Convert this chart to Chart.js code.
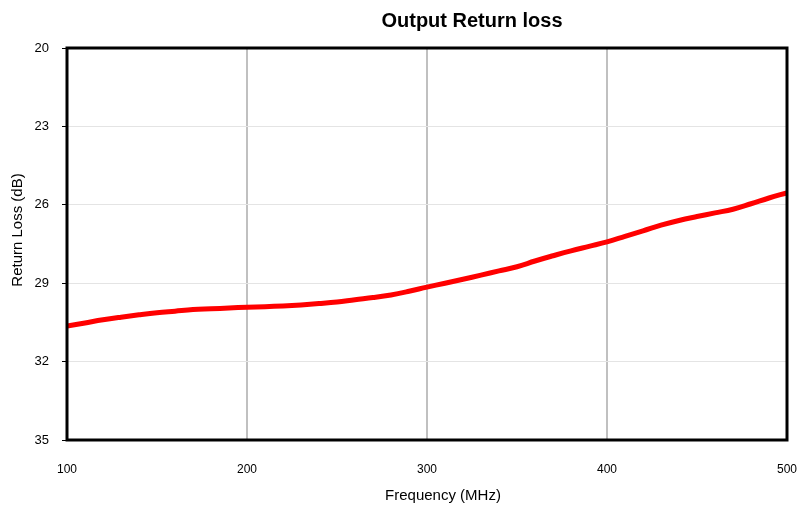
<!DOCTYPE html>
<html>
<head>
<meta charset="utf-8">
<script src="https://cdn.jsdelivr.net/npm/chart.js@4/dist/chart.umd.min.js"></script>
<style>
  html, body { margin: 0; padding: 0; background: #fff; }
  #wrap { width: 802px; height: 507px; }
</style>
</head>
<body>
<div id="wrap"><canvas id="c" width="802" height="507"></canvas></div>
<script>
// frequency in MHz, return loss in dB
const freq = [100,110,120,130,140,150,160,170,180,190,200,210,220,230,240,250,260,270,280,290,
              300,310,320,330,340,350,360,370,380,390,400,410,420,430,440,450,460,470,480,490,500];
const returnLoss = [30.64,30.52,30.40,30.30,30.21,30.13,30.07,30.01,29.98,29.95,29.92,29.90,29.87,29.83,29.78,29.72,29.63,29.55,29.45,29.31,
                    29.15,29.00,28.85,28.69,28.53,28.37,28.15,27.95,27.76,27.59,27.42,27.21,27.00,26.78,26.60,26.45,26.31,26.17,25.96,25.74,25.54];
const xTicks = [100, 200, 300, 400, 500];
const yTicks = [20, 23, 26, 29, 32, 35];

const font = 'Liberation Sans, Arial, sans-serif';

let boxPlugin = {
	id: 'box',
	afterDraw(chart){
		const a = chart.chartArea, ctx = chart.ctx;
		ctx.save();
		ctx.strokeStyle = '#000';
		ctx.lineWidth = 3;
		ctx.strokeRect(a.left, a.top, a.right - a.left, a.bottom - a.top);
		ctx.fillStyle = '#000';
		ctx.textAlign = 'center';
		ctx.textBaseline = 'middle';
		ctx.font = 'bold 20px ' + font;
		ctx.fillText('Output Return loss', 472, 21);
		ctx.font = '15px ' + font;
		ctx.fillText('Frequency (MHz)', 443, 496);
		ctx.translate(18, 230);
		ctx.rotate(-Math.PI / 2);
		ctx.fillText('Return Loss (dB)', 0, 0);
		ctx.restore();
	}
};

new Chart(document.getElementById('c'), {
	type: 'line',
	data: {
		datasets: [{
			data: freq.map((f, i) => ({x: f, y: returnLoss[i]})),
			borderColor: '#ff0000',
			borderWidth: 5,
			pointRadius: 0,
			tension: 0.4,
			fill: false
		}]
	},
	options: {
		responsive: false,
		animation: false,
		layout: { padding: { top: 48, right: 15, left: 0, bottom: 0 } },
		plugins: { legend: { display: false }, tooltip: { enabled: false } },
		scales: {
			x: {
				type: 'linear', min: 100, max: 500,
				afterBuildTicks: s => { s.ticks = xTicks.map(v => ({value: v})); },
				afterFit: s => { s.height = 67; s.paddingLeft = 0; s.paddingRight = 0; },
				grid: { color: c => (c.tick.value === 100 || c.tick.value === 500) ? 'rgba(0,0,0,0)' : '#c0c0c0', lineWidth: 2, drawTicks: false },
				border: { display: false },
				ticks: { color: '#000', font: { family: font, size: 12 }, padding: 22, maxRotation: 0 }
			},
			y: {
				type: 'linear', min: 20, max: 35, reverse: true,
				afterBuildTicks: s => { s.ticks = yTicks.map(v => ({value: v})); },
				afterFit: s => { s.width = 67; s.paddingTop = 0; s.paddingBottom = 0; },
				grid: { color: c => (c.tick.value === 20 || c.tick.value === 35) ? 'rgba(0,0,0,0)' : '#e4e4e4', lineWidth: 1, tickColor: '#000', tickLength: 5 },
				border: { display: false },
				ticks: { color: '#000', font: { family: font, size: 13 }, padding: 13 }
			}
		}
	},
	plugins: [boxPlugin]
});
</script>
</body>
</html>
